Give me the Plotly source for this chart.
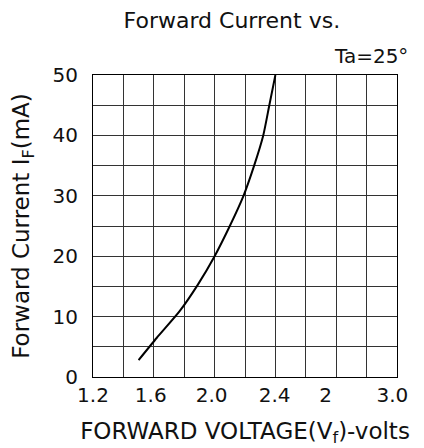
import plotly.graph_objects as go

# Curve
vf = [1.50, 1.62, 1.77, 1.89, 2.00, 2.10, 2.19, 2.26, 2.32, 2.36, 2.40]
i_f = [2.8, 6.5, 10.9, 15.3, 20.0, 25.0, 30.0, 35.0, 40.0, 45.0, 50.0]

x_tick_pos = [1.2, 1.58, 1.98, 2.395, 2.73, 3.17]
x_tick_text = ["1.2", "1.6", "2.0", "2.4", "2", "3.0"]
y_tick_vals = [0, 10, 20, 30, 40, 50]

FONT = "DejaVu Sans"
INK = "#111111"

fig = go.Figure()
fig.add_trace(go.Scatter(x=vf, y=i_f, mode="lines",
                         line=dict(color="black", width=2, shape="spline", smoothing=0.6),
                         showlegend=False, hoverinfo="skip"))

fig.update_layout(
    width=424, height=448,
    margin=dict(l=85, r=35, t=67, b=79, autoexpand=False),
    paper_bgcolor="white", plot_bgcolor="white",
    font=dict(family=FONT, color=INK),
    title=dict(text="Forward Current vs.", x=0.528, xanchor="center", y=0.972, yanchor="middle",
               font=dict(family=FONT, size=22, color=INK)),
    xaxis=dict(range=[1.2, 3.2], showgrid=False, zeroline=False, automargin=False,
               tickmode="array", tickvals=x_tick_pos, ticktext=x_tick_text,
               tickfont=dict(size=20, color=INK), ticks="", ticklen=0, ticklabelstandoff=0,
               showline=True, linecolor="black", linewidth=1, mirror=True,
               minor=dict(tickmode="linear", tick0=1.2, dtick=0.2, showgrid=True,
                          gridcolor="#333333", gridwidth=1, ticks=""),
               title=dict(text="FORWARD VOLTAGE(V<sub>f</sub>)-volts", standoff=16,
                          font=dict(size=23, color=INK))),
    yaxis=dict(range=[0, 50], showgrid=True, gridcolor="#333333", gridwidth=1, zeroline=False,
               automargin=False,
               tickmode="array", tickvals=y_tick_vals,
               tickfont=dict(size=20, color=INK), ticks="", ticklen=0, ticklabelstandoff=10,
               showline=True, linecolor="black", linewidth=1, mirror=True,
               minor=dict(tickmode="linear", tick0=0, dtick=5, showgrid=True,
                          gridcolor="#333333", gridwidth=1, ticks=""),
               title=dict(text="Forward Current I<sub>F</sub>(mA)", standoff=30,
                          font=dict(size=23, color=INK))),
    annotations=[dict(text="Ta=25°", xref="paper", yref="paper", x=1.043, y=1.015,
                      xanchor="right", yanchor="bottom", showarrow=False,
                      font=dict(family=FONT, size=20, color=INK))],
)

fig.write_html("out.html")
